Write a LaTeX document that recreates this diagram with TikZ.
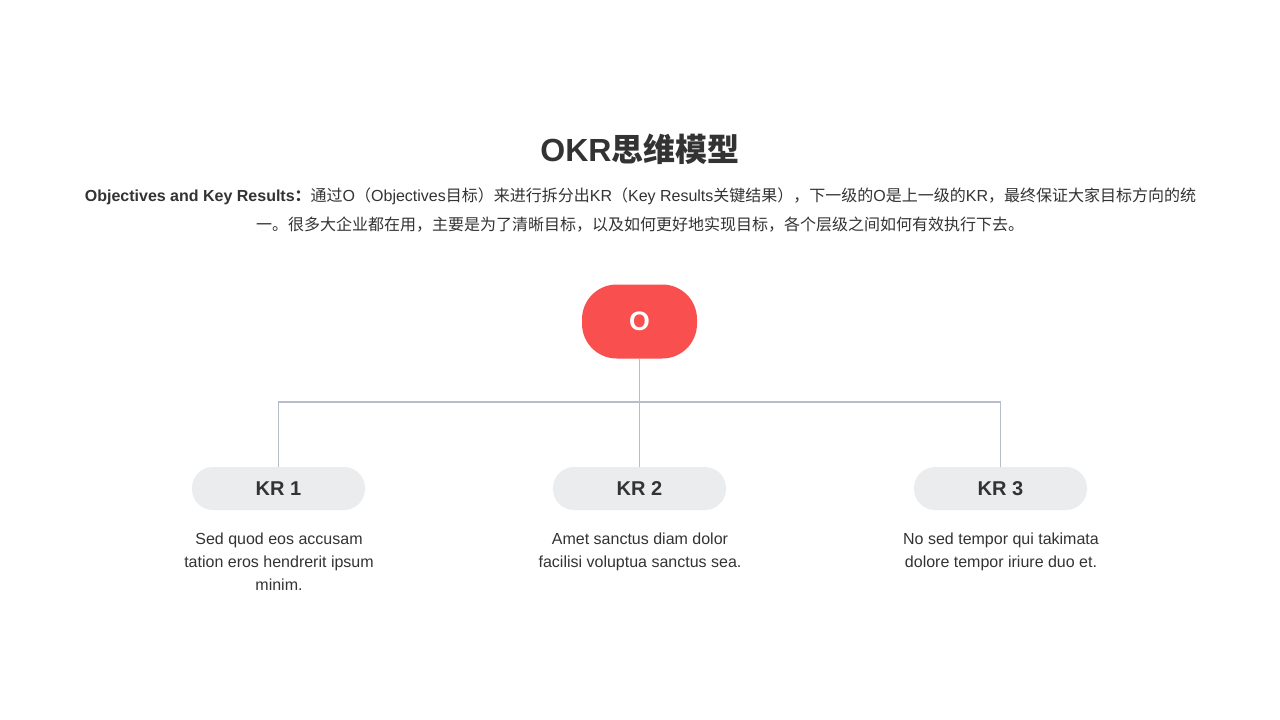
\documentclass[tikz,border=0pt]{standalone}
\usepackage{fontspec}
\setmainfont{Liberation Sans}
\newfontfamily\cjk{Noto Sans CJK SC}
\newcommand\zh[1]{{\cjk #1}}
\definecolor{okred}{HTML}{F94F4F}
\definecolor{krfill}{HTML}{EBECEE}
\definecolor{linkc}{HTML}{B7BDCA}
\definecolor{txt}{HTML}{333333}
\begin{document}
\begin{tikzpicture}[x=0.75pt,y=-0.75pt,
  txtstyle/.style={text=txt,inner sep=0pt},
  obox/.style={fill=okred,rounded corners=26pt,minimum width=86.25pt,minimum height=55.5pt,inner sep=0pt,text=white,font=\bfseries\fontsize{20}{24}\selectfont},
  krbox/.style={fill=krfill,rounded corners=15.75pt,minimum width=129.75pt,minimum height=32.25pt,inner sep=0pt,text=txt,font=\bfseries\fontsize{15}{18}\selectfont},
  desc/.style={txtstyle,align=center,font=\fontsize{12}{17.25}\selectfont,anchor=base},
  link/.style={draw=linkc,line width=0.8pt}]
\useasboundingbox (0,0) rectangle (1280,720);
\fill[white] (0,0) rectangle (1280,720);
\node[txtstyle,anchor=base,font=\bfseries\fontsize{24}{28}\selectfont] (title) at (640,162) {OKR\zh{思维模型}};
\node[txtstyle,anchor=base,font=\fontsize{12}{16}\selectfont] (para1) at (640.5,202) {\textbf{Objectives and Key Results\zh{：}}\zh{通过}O\zh{（}Objectives\zh{目标）来进行拆分出}KR\zh{（}Key Results\zh{关键结果），下一级的}O\zh{是上一级的}KR\zh{，最终保证大家目标方向的统}};
\node[txtstyle,anchor=base,font=\fontsize{12}{16}\selectfont] (para2) at (640,231) {\zh{一。很多大企业都在用，主要是为了清晰目标，以及如何更好地实现目标，各个层级之间如何有效执行下去。}};
\node[obox] (O) at (639.5,321.5) {O};
\node[krbox] (kr1) at (278.5,488.5) {KR 1};
\node[krbox] (kr2) at (639.5,488.5) {KR 2};
\node[krbox] (kr3) at (1000.5,488.5) {KR 3};
\coordinate (hub) at (639.5,402);
\draw[link] (O.south) -- (hub);
\draw[link] (kr1.north) |- (hub) -| (kr3.north);
\draw[link] (hub) -- (kr2.north);
\node[desc] (d1) at (279,590) {Sed quod eos accusam\\tation eros hendrerit ipsum\\minim.};
\node[desc] (d2) at (640,567) {Amet sanctus diam dolor\\facilisi voluptua sanctus sea.};
\node[desc] (d3) at (1001,567) {No sed tempor qui takimata\\dolore tempor iriure duo et.};
\end{tikzpicture}
\end{document}
